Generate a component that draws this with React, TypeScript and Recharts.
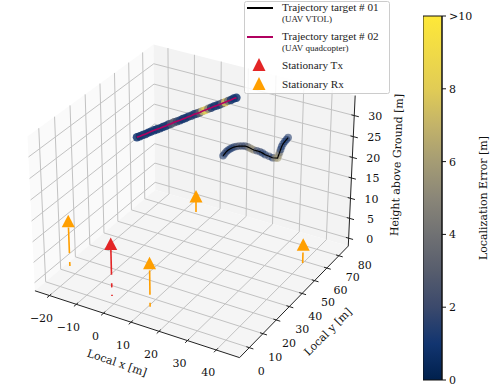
import { ComposedChart, BarChart, Bar, Line, Scatter, XAxis, YAxis, Legend } from 'recharts'

// axis limits of the 3d box
const xLim = [-25.5, 48]
const yLim = [3, 88]
const zLim = [-2, 34.7]

const xTicks = [-20, -10, 0, 10, 20, 30, 40]
const yTicks = [10, 20, 30, 40, 50, 60, 70, 80]
const yLabels = [0, 10, 20, 30, 40, 50, 60, 70, 80]
const zTicks = [0, 5, 10, 15, 20, 25, 30]

// trajectory target 02 (quadcopter)
const quadX = [-11, -10.4, -9.8, -9.2, -8.6, -8.1, -7.4, -6.8, -6.2, -5.6, -5, -4.4, -3.8, -3.2, -2.6, -2, -1.4, -0.8, -0.2, 0.4, 1, 1.6, 2.2, 2.8, 3.4, 4, 4.6, 5.2, 5.8, 6.4, 7, 7.6, 8.2, 8.8, 9.4, 10]
const quadY = [48, 48.9, 49.8, 50.7, 51.5, 52.4, 53.3, 54.2, 55.1, 56, 56.9, 57.8, 58.6, 59.5, 60.4, 61.3, 62.2, 63.1, 64, 64.9, 65.8, 66.6, 67.5, 68.4, 69.3, 70.2, 71.1, 72, 72.9, 73.7, 74.6, 75.5, 76.4, 77.3, 78.2, 79]
const quadZ = [25, 25.1, 25.3, 25.4, 25.6, 25.7, 25.9, 26, 26.1, 26.3, 26.4, 26.6, 26.7, 26.9, 27, 27.1, 27.3, 27.4, 27.6, 27.7, 27.9, 28, 28.1, 28.3, 28.4, 28.6, 28.7, 28.9, 29, 29.1, 29.3, 29.4, 29.6, 29.7, 29.9, 30]
const quadErr = [1, 0.8, 1, 1.2, 1, 1, 1.1, 1, 1.3, 1, 1.2, 1.3, 2.5, 3, 2, 1.4, 1, 1.2, 1, 1.5, 1.2, 1.6, 3, 7, 8, 5, 1.5, 1, 1.4, 1.2, 3, 7.5, 4, 1.2, 1, 1]

// trajectory target 01 (VTOL)
const vtolX = [14.5, 14.3, 14.1, 14.1, 14.2, 14.4, 14.7, 15.2, 15.8, 16.6, 17.4, 18.4, 19.4, 20.2, 21.1, 22.2, 23.4, 24.5, 25.7, 27.2, 28.6, 29.4, 30.1, 30.25, 30.4, 30.55, 30.7, 31, 31.4, 31.75, 32.1]
const vtolY = [59.8, 61.4, 63, 64.3, 65.6, 66.6, 67.6, 68.4, 69.2, 69.8, 70.3, 70.2, 69.9, 69.6, 69.3, 69.3, 69.2, 68.8, 68.2, 67.9, 67.5, 67.8, 68.2, 68.6, 69, 69.45, 69.9, 70.3, 70.7, 71.2, 71.7]
const vtolZ = [22, 22, 22, 22, 22, 22, 22, 22, 22, 22, 22, 22, 22, 22, 22, 22, 22, 22, 22, 22, 22, 22, 22, 22.6, 23.15, 23.8, 24.4, 25, 25.5, 25.9, 26.3]
const vtolErr = [1.5, 1.5, 1.8, 1.5, 1.2, 1.5, 1.5, 2, 2.5, 2, 2, 3, 5, 5.5, 5, 2, 2, 1.5, 1.5, 2, 1.5, 5, 6, 5.5, 4, 1.5, 1.2, 1.5, 1.2, 1.2, 1.5]

// stationary nodes: ground position, marker height, visible stem pieces
const txNode = { x: -0.4, y: 9.6, top: 12.6, stem: [[0, 0.3], [2.1, 3.1], [5.2, 11.4]] }
const rxNodes = [
  { x: -21.3, y: 19, top: 11, stem: [[0, 1], [3.2, 9.5]] },
  { x: 13, y: 10.4, top: 10.5, stem: [[0, 1], [2.9, 8.8]] },
  { x: -3.4, y: 76, top: 4, stem: [[0, 3.3]] },
  { x: 42, y: 63.7, top: 4.5, stem: [[0, 2.6]] },
]

const colorbarData = [{ name: 'error', top: 10 }]
const colorbarTicks = [0, 2, 4, 6, 8, 10]
const cividis = ['#00204d', '#123570', '#3b496c', '#575d6d', '#707173', '#8a8678', '#a59c74', '#c3b369', '#e1cc55', '#f0da47', '#fee838']

const RED = '#e32526'
const ORANGE = '#ff9f00'
const serif = '"DejaVu Serif"'

// same perspective maths as matplotlib's mplot3d at elev=30, azim=-60
function proj(x: number, y: number, z: number) {
  const bx = 1.19
  const bz = 0.893
  const a = ((x - xLim[0]) / (xLim[1] - xLim[0]) - 0.5) * bx
  const b = ((y - yLim[0]) / (yLim[1] - yLim[0]) - 0.5) * bx
  const c = ((z - zLim[0]) / (zLim[1] - zLim[0]) - 0.5) * bz
  const u = 0.866 * a + 0.5 * b
  const v = -0.25 * a + 0.433 * b + 0.866 * c
  const d = 0.433 * a - 0.75 * b + 0.5 * c
  const s = 10 / (10 - d)
  return { px: 194.5 + 197 * u * s, py: 193.5 - 197 * v * s }
}

function lerpColor(t: number) {
  const f = Math.max(0, Math.min(10, t))
  const i = Math.min(9, Math.floor(f))
  const k = f - i
  const rgb = (h: string) => [1, 3, 5].map((n) => parseInt(h.slice(n, n + 2), 16))
  const a = rgb(cividis[i])
  const b = rgb(cividis[i + 1])
  return `rgb(${a.map((c, n) => Math.round(c + (b[n] - c) * k)).join(',')})`
}

const [x0, x1] = xLim
const [y0, y1] = yLim
const [z0, z1] = zLim

const panes = [
  { fill: '#fafafa', pts: [proj(x0, y0, z0), proj(x0, y1, z0), proj(x0, y1, z1), proj(x0, y0, z1)] },
  { fill: '#f3f3f3', pts: [proj(x0, y1, z0), proj(x1, y1, z0), proj(x1, y1, z1), proj(x0, y1, z1)] },
  { fill: '#f5f5f5', pts: [proj(x0, y0, z0), proj(x1, y0, z0), proj(x1, y1, z0), proj(x0, y1, z0)] },
]

const gridLines = [
  ...xTicks.map((t) => [proj(t, y0, z0), proj(t, y1, z0), proj(t, y1, z1)]),
  ...yTicks.map((t) => [proj(x1, t, z0), proj(x0, t, z0), proj(x0, t, z1)]),
  ...zTicks.map((t) => [proj(x0, y0, t), proj(x0, y1, t), proj(x1, y1, t)]),
]

const axisLines = [
  [proj(x0, y0, z0), proj(x1, y0, z0), proj(x1, y1, z0), proj(x1, y1, z1)],
  ...xTicks.map((t) => [proj(t, y0 + 1.2, z0), proj(t, y0 - 1.6, z0)]),
  ...yTicks.map((t) => [proj(x1 - 1, t, z0), proj(x1 + 1.4, t, z0)]),
  ...zTicks.map((t) => [proj(x1 - 1, y1, t), proj(x1 + 1.6, y1, t)]),
]

const quadPts = quadX.map((x, i) => ({ ...proj(x, quadY[i], quadZ[i]), err: quadErr[i] }))
const vtolPts = vtolX.map((x, i) => ({ ...proj(x, vtolY[i], vtolZ[i]), err: vtolErr[i] }))

const nodes = [...rxNodes.map((n) => ({ ...n, color: ORANGE })), { ...txNode, color: RED }]

const tickText = [
  ...xTicks.map((t) => {
    const p = proj(t, y0, z0)
    return { px: p.px - 8, py: p.py + 23, text: t < 0 ? `\u2212${-t}` : `${t}`, angle: 0 }
  }),
  ...yLabels.map((t) => {
    const p = proj(x1, t, z0)
    return { px: p.px + 26, py: p.py + 9.5, text: `${t}`, angle: 0 }
  }),
  ...zTicks.map((t) => {
    const p = proj(x1, y1, t)
    return { px: p.px + 21, py: p.py + 1, text: `${t}`, angle: 0 }
  }),
  { px: 117, py: 363, text: 'Local x [m]', angle: 19 },
  { px: 328, py: 332, text: 'Local y [m]', angle: -45 },
  { px: 397, py: 165, text: 'Height above Ground [m]', angle: -88 },
]

const Pane = (props: any) => {
  if (props.index !== 0) return <g key={props.index} />
  const pts = props.points.map((p: any) => `${p.x},${p.y}`).join(' ')
  return <polygon key="pane" points={pts} fill={props.paneFill} stroke="none" />
}

const makeBlob = (r: number, opacity: number) => (props: any) => {
  const { cx, cy, payload } = props
  return <circle cx={cx} cy={cy} r={r} fill={lerpColor(payload.err)} fillOpacity={opacity} />
}

const makeTriangle = (color: string) => (props: any) => {
  const { cx, cy } = props
  return <path d={`M${cx} ${cy - 6.5}L${cx + 6.5} ${cy + 6}L${cx - 6.5} ${cy + 6}Z`} fill={color} />
}

const TickText = (props: any) => {
  const { cx, cy, payload } = props
  return (
    <text
      x={cx}
      y={cy}
      textAnchor="middle"
      dominantBaseline="central"
      fontFamily={serif}
      fontSize={11}
      fill="#111"
      transform={`rotate(${payload.angle} ${cx} ${cy})`}
    >
      {payload.text}
    </text>
  )
}

const LegendBox = () => {
  const small = { fontFamily: '"Liberation Serif"', fontSize: 9, fill: '#222' }
  const big = { fontFamily: '"Liberation Serif"', fontSize: 11.2, fill: '#222' }
  return (
    <svg width={146} height={93} style={{ display: 'block' }}>
      <rect x={0.5} y={0.5} width={145} height={92} rx={2} fill="#fff" fillOpacity={0.85} stroke="#ccc" />
      <line x1={3} x2={29} y1={7} y2={7} stroke="#000" strokeWidth={2} />
      <text x={38} y={10} {...big}>Trajectory target # 01</text>
      <text x={38} y={21} {...small}>(UAV VTOL)</text>
      <line x1={3} x2={29} y1={36} y2={36} stroke="#b0005f" strokeWidth={2} />
      <text x={38} y={39} {...big}>Trajectory target # 02</text>
      <text x={38} y={50} {...small}>(UAV quadcopter)</text>
      <path d="M15 57L21.5 70L8.5 70Z" fill={RED} />
      <text x={38} y={68} {...big}>Stationary Tx</text>
      <path d="M15 76L21.5 89L8.5 89Z" fill={ORANGE} />
      <text x={38} y={87} {...big}>Stationary Rx</text>
    </svg>
  )
}

export default function App() {
  return (
    <div style={{ position: 'absolute', left: 0, top: 0, width: 498, height: 392 }}>
      <ComposedChart width={498} height={392} margin={{ top: 0, right: 0, bottom: 0, left: 0 }}>
        <XAxis dataKey="px" type="number" domain={[0, 498]} hide allowDataOverflow />
        <YAxis dataKey="py" type="number" domain={[0, 392]} reversed hide allowDataOverflow />
        {panes.map((pane, i) => (
          <Line
            key={`pane-${i}`}
            data={pane.pts}
            dataKey="py"
            stroke="none"
            legendType="none"
            activeDot={false}
            dot={(p: any) => <Pane {...p} key={p.index} paneFill={pane.fill} />}
            isAnimationActive={false}
          />
        ))}
        {gridLines.map((pts, i) => (
          <Line key={`grid-${i}`} data={pts} dataKey="py" type="linear" stroke="#c2c2c2" strokeWidth={1} dot={false} activeDot={false} legendType="none" isAnimationActive={false} zIndex={610} />
        ))}
        {axisLines.map((pts, i) => (
          <Line key={`axis-${i}`} data={pts} dataKey="py" type="linear" stroke="#222" strokeWidth={1} dot={false} activeDot={false} legendType="none" isAnimationActive={false} zIndex={620} />
        ))}
        {nodes.flatMap((n, i) =>
          n.stem.map((piece, j) => (
            <Line
              key={`stem-${i}-${j}`}
              data={[proj(n.x, n.y, piece[0]), proj(n.x, n.y, piece[1])]}
              dataKey="py"
              type="linear"
              stroke={n.color}
              strokeWidth={1.6}
              dot={false}
              activeDot={false}
              legendType="none"
              isAnimationActive={false}
              zIndex={630}
            />
          )),
        )}
        {nodes.map((n, i) => (
          <Scatter key={`node-${i}`} data={[proj(n.x, n.y, n.top)]} shape={makeTriangle(n.color)} legendType="none" isAnimationActive={false} zIndex={640} />
        ))}
        <Scatter data={quadPts} shape={makeBlob(4.2, 0.85)} legendType="none" isAnimationActive={false} zIndex={650} />
        <Scatter data={vtolPts} shape={makeBlob(3.8, 0.6)} legendType="none" isAnimationActive={false} zIndex={650} />
        <Line data={quadPts} dataKey="py" type="linear" stroke="#b0005f" strokeWidth={1.6} dot={false} activeDot={false} legendType="none" isAnimationActive={false} zIndex={700} />
        <Line data={vtolPts} dataKey="py" type="linear" stroke="#000" strokeWidth={1.2} dot={false} activeDot={false} legendType="none" isAnimationActive={false} zIndex={700} />
        <Scatter data={tickText} shape={TickText} legendType="none" isAnimationActive={false} zIndex={710} />
        <Legend
          layout="horizontal"
          verticalAlign="middle"
          content={() => <LegendBox />}
          wrapperStyle={{ left: 244, top: 1, width: 146, height: 93 }}
        />
      </ComposedChart>
      <div style={{ position: 'absolute', left: 423, top: 6 }}>
        <BarChart width={75} height={384} data={colorbarData} barCategoryGap={0} margin={{ top: 10, right: 0, bottom: 10, left: 0 }}>
          <defs>
            <linearGradient id="cividis" x1="0" y1="1" x2="0" y2="0">
              {cividis.map((c, i) => (
                <stop key={c} offset={i / (cividis.length - 1)} stopColor={c} />
              ))}
            </linearGradient>
          </defs>
          <XAxis dataKey="name" hide />
          <YAxis
            orientation="right"
            width={56}
            domain={[0, 10]}
            ticks={colorbarTicks}
            tickFormatter={(v: number) => (v === 10 ? '>10' : `${v}`)}
            tick={{ fontFamily: serif, fontSize: 11, fill: '#111' }}
            tickLine={{ stroke: '#111' }}
            axisLine={{ stroke: '#111' }}
            tickSize={4}
            tickMargin={3}
            label={{ value: 'Localization Error [m]', angle: -90, position: 'center', dx: 13, fontFamily: serif, fontSize: 11, fill: '#111' }}
          />
          <Bar dataKey="top" fill="url(#cividis)" stroke="#111" strokeWidth={1} isAnimationActive={false} />
        </BarChart>
      </div>
    </div>
  )
}
